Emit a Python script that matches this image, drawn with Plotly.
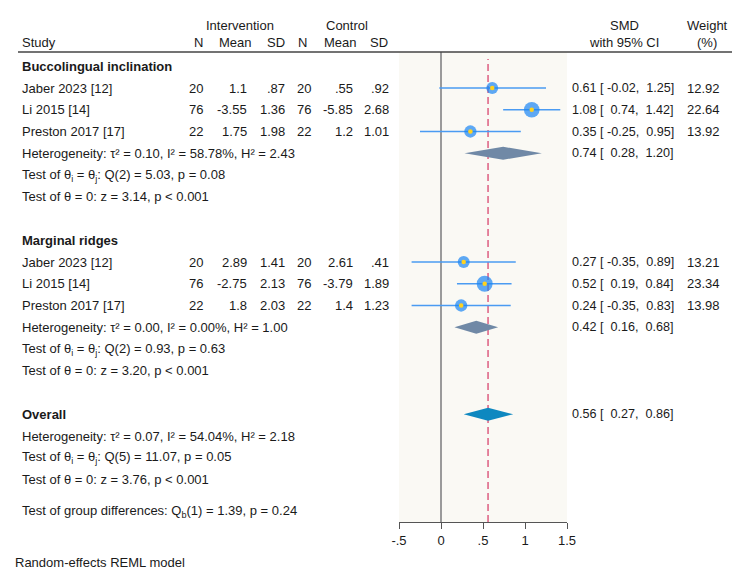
import plotly.graph_objects as go

# ---------------- data ----------------
groups = ["Buccolingual inclination", "Marginal ridges"]
studies = ["Jaber 2023 [12]", "Li 2015 [14]", "Preston 2017 [17]",
           "Jaber 2023 [12]", "Li 2015 [14]", "Preston 2017 [17]"]
study_group = [0, 0, 0, 1, 1, 1]
int_n = [20, 76, 22, 20, 76, 22]
int_mean = [1.1, -3.55, 1.75, 2.89, -2.75, 1.8]
int_sd = [0.87, 1.36, 1.98, 1.41, 2.13, 2.03]
ctl_n = [20, 76, 22, 20, 76, 22]
ctl_mean = [0.55, -5.85, 1.2, 2.61, -3.79, 1.4]
ctl_sd = [0.92, 2.68, 1.01, 0.41, 1.89, 1.23]
smd = [0.61, 1.08, 0.35, 0.27, 0.52, 0.24]
smd_lo = [-0.02, 0.74, -0.25, -0.35, 0.19, -0.35]
smd_hi = [1.25, 1.42, 0.95, 0.89, 0.84, 0.83]
weight = [12.92, 22.64, 13.92, 13.21, 23.34, 13.98]

sub_est = [0.74, 0.42]
sub_lo = [0.28, 0.16]
sub_hi = [1.20, 0.68]
sub_stats = [
    ["Heterogeneity: τ² = 0.10, I² = 58.78%, H² = 2.43",
     "Test of θ<sub>i</sub> = θ<sub>j</sub>: Q(2) = 5.03, p = 0.08",
     "Test of θ = 0: z = 3.14, p < 0.001"],
    ["Heterogeneity: τ² = 0.00, I² = 0.00%, H² = 1.00",
     "Test of θ<sub>i</sub> = θ<sub>j</sub>: Q(2) = 0.93, p = 0.63",
     "Test of θ = 0: z = 3.20, p < 0.001"],
]
overall_est, overall_lo, overall_hi = 0.56, 0.27, 0.86
overall_stats = ["Heterogeneity: τ² = 0.07, I² = 54.04%, H² = 2.18",
                 "Test of θ<sub>i</sub> = θ<sub>j</sub>: Q(5) = 11.07, p = 0.05",
                 "Test of θ = 0: z = 3.76, p < 0.001"]
group_diff = "Test of group differences: Q<sub>b</sub>(1) = 1.39, p = 0.24"
footnote = "Random-effects REML model"

tick_vals = [-0.5, 0, 0.5, 1, 1.5]
tick_text = ["-.5", "0", ".5", "1", "1.5"]

# ---------------- layout helpers ----------------
W, H = 750, 579
PL, PR, PT, PB = 399, 567, 52, 522
ROW0, ROWH = 66.25, 21.75
NB = "\u00a0"


def px(x):
    return (x - PL) / (PR - PL)


def py(y):
    return (PB - y) / (PB - PT)


def row_of_pixel(y):
    return (y - ROW0) / ROWH


def fmt(v):
    s = f"{v:g}"
    if s.startswith("0."):
        s = s[1:]
    elif s.startswith("-0."):
        s = "-" + s[2:]
    return s


def ci_str(e, l, h):
    ls = f"{l:.2f}" if l < 0 else NB + f"{l:.2f}"
    return f"{e:.2f}{NB}[{NB}{ls},{NB}{NB}{h:.2f}]"


FONT = "Liberation Sans, Arial, Helvetica, sans-serif"
TXT = "#1a1a1a"

# rows
study_rows = []
for k, g in enumerate(study_group):
    idx = [j for j in range(len(study_group)) if study_group[j] == g].index(k)
    study_rows.append(g * 8 + 1 + idx)
sub_rows = [g * 8 + 4 for g in range(len(groups))]
overall_row = 16

fig = go.Figure()

# CI lines + weighted markers
fig.add_trace(go.Scatter(
    x=smd, y=study_rows, mode="markers",
    marker=dict(size=[3.3 * w ** 0.5 for w in weight], color="#1A86F4", line=dict(width=0)),
    error_x=dict(type="data", symmetric=False,
                 array=[h - e for h, e in zip(smd_hi, smd)],
                 arrayminus=[e - l for e, l in zip(smd, smd_lo)],
                 color="#4A9BF2", thickness=1.5, width=0),
    hoverinfo="skip", showlegend=False))
fig.add_trace(go.Scatter(
    x=smd, y=study_rows, mode="markers",
    marker=dict(size=4.5, color="#FFD21F"), hoverinfo="skip", showlegend=False))

# subgroup diamonds
DH = 0.3
for g in range(len(groups)):
    r = sub_rows[g]
    fig.add_trace(go.Scatter(
        x=[sub_lo[g], sub_est[g], sub_hi[g], sub_est[g], sub_lo[g]],
        y=[r, r - DH, r, r + DH, r], mode="lines", fill="toself",
        fillcolor="#7089A6", line=dict(width=0, color="#7089A6"),
        hoverinfo="skip", showlegend=False))
# overall diamond
fig.add_trace(go.Scatter(
    x=[overall_lo, overall_est, overall_hi, overall_est, overall_lo],
    y=[overall_row, overall_row - DH, overall_row, overall_row + DH, overall_row],
    mode="lines", fill="toself", fillcolor="#0E88C0", line=dict(width=0, color="#0E88C0"),
    hoverinfo="skip", showlegend=False))

shapes = [
    # overall estimate dashed line
    dict(type="line", xref="x", yref="paper", x0=overall_est, x1=overall_est, y0=0, y1=0.985,
         line=dict(color="#D8466F", width=1.3, dash="7px,4px"), layer="below"),
    # header rule
    dict(type="line", xref="paper", yref="paper", x0=px(18), x1=px(732), y0=1, y1=1,
         line=dict(color="#444", width=1.3)),
]

ann = []


def add_text(x, y, text, anchor="left", bold=False, yref="y", size=13):
    ann.append(dict(x=px(x), y=y, xref="paper", yref=yref, text=f"<b>{text}</b>" if bold else text,
                    xanchor=anchor, yanchor="middle", showarrow=False,
                    font=dict(family=FONT, size=size, color=TXT)))


# headers (paper coordinates, above the panel)
hy1, hy2 = py(25.7), py(43)
add_text(240, hy1, "Intervention", "center", yref="paper")
add_text(346.5, hy1, "Control", "center", yref="paper")
add_text(624, hy1, "SMD", "center", yref="paper")
add_text(707, hy1, "Weight", "center", yref="paper")
add_text(20, hy2, "Study", yref="paper")
add_text(205, hy2, "N", "right", yref="paper")
add_text(254, hy2, "Mean", "right", yref="paper")
add_text(287, hy2, "SD", "right", yref="paper")
add_text(309, hy2, "N", "right", yref="paper")
add_text(359, hy2, "Mean", "right", yref="paper")
add_text(390, hy2, "SD", "right", yref="paper")
add_text(624, hy2, "with 95% CI", "center", yref="paper")
add_text(707, hy2, "(%)", "center", yref="paper")

CI_X = 570
CI_SIZE = 12.6

for g, name in enumerate(groups):
    add_text(20, g * 8, name, bold=True)
    for j, s in enumerate(sub_stats[g]):
        add_text(20, sub_rows[g] + j, s)
    add_text(CI_X, sub_rows[g], ci_str(sub_est[g], sub_lo[g], sub_hi[g]), size=CI_SIZE)

for k in range(len(studies)):
    r = study_rows[k]
    add_text(20, r, studies[k])
    add_text(205, r, str(int_n[k]), "right")
    add_text(249, r, fmt(int_mean[k]), "right")
    add_text(287, r, fmt(int_sd[k]), "right")
    add_text(313, r, str(ctl_n[k]), "right")
    add_text(355, r, fmt(ctl_mean[k]), "right")
    add_text(391, r, fmt(ctl_sd[k]), "right")
    add_text(CI_X, r, ci_str(smd[k], smd_lo[k], smd_hi[k]), size=CI_SIZE)
    add_text(722, r, f"{weight[k]:.2f}", "right")

add_text(20, overall_row, "Overall", bold=True)
add_text(CI_X, overall_row, ci_str(overall_est, overall_lo, overall_hi), size=CI_SIZE)
for j, s in enumerate(overall_stats):
    add_text(20, overall_row + 1 + j, s)
add_text(20, py(511), group_diff, yref="paper")
add_text(13, py(562), footnote, yref="paper")

fig.update_layout(
    width=W, height=H,
    margin=dict(l=PL, r=W - PR, t=PT, b=H - PB, pad=0),
    paper_bgcolor="white", plot_bgcolor="#FAF9F4",
    shapes=shapes, annotations=ann, showlegend=False,
    font=dict(family=FONT, size=13, color=TXT),
    xaxis=dict(range=[-0.5, 1.5], tickvals=tick_vals, ticktext=tick_text,
               ticks="outside", ticklen=6, tickcolor="#555", tickwidth=1.3,
               showline=True, linecolor="#555", linewidth=1.3,
               showgrid=False, zeroline=True, zerolinecolor="#9a9a9a", zerolinewidth=1.5,
               tickfont=dict(family=FONT, size=13, color=TXT), fixedrange=True),
    yaxis=dict(range=[row_of_pixel(PB), row_of_pixel(PT)], visible=False,
               showgrid=False, zeroline=False, fixedrange=True),
)

fig.write_html("out.html")
